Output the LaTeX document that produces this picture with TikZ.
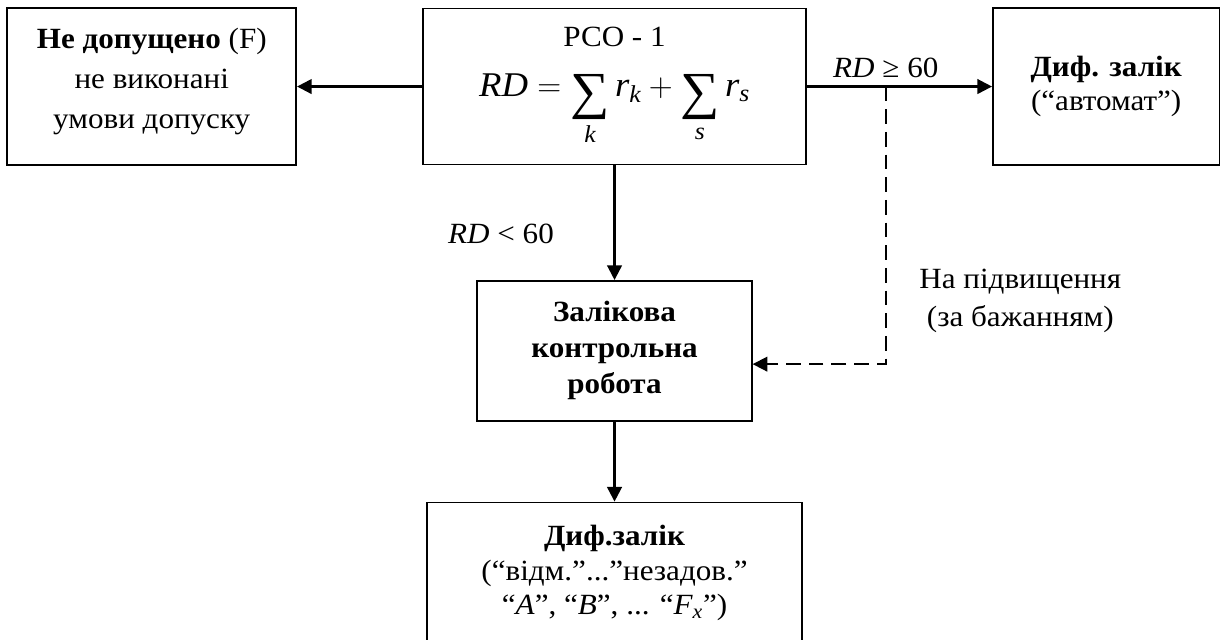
\documentclass[tikz,border=0pt]{standalone}
\usepackage{amsmath}
\usepackage{fontspec}
\setmainfont{Liberation Serif}[FakeStretch=1.06]
\usepackage{tikz}
\usetikzlibrary{arrows.meta, positioning, calc}

\newcommand{\nsum}{\mathop{\raisebox{-9pt}{\fontsize{39}{39}\selectfont ∑}}\limits}

\begin{document}
\begin{tikzpicture}[
    every node/.style={font=\fontsize{22}{30}\selectfont},
    box/.style={rectangle, draw=black, line width=1.2pt, align=center, inner sep=0pt},
    note/.style={align=center, inner sep=0pt},
    tight/.style={font=\fontsize{22}{26}\selectfont},
    arrow/.style={line width=1.7pt, -{Triangle[length=11pt, width=11pt]}},
    dasharrow/.style={arrow, line width=1.3pt, dash pattern=on 11pt off 6pt},
]

    \useasboundingbox (-460.9pt,64.9pt) rectangle (454.1pt,-414.4pt);

    \node (rco) [box, minimum width=287pt, minimum height=117pt] {РСО - 1\\[7.5pt]{\fontsize{26}{30}\selectfont$\textit{RD}=\nsum_{\textit{k}}\textit{r}_{\textit{k}}+\nsum_{\textit{s}}\textit{r}_{\textit{s}}$}};
    \node (ne) [box, minimum width=216.75pt, minimum height=117.75pt, left=94pt of rco] {\textbf{Не допущено} (F)\\не виконані\\умови допуску\rule[-12pt]{0pt}{0pt}};
    \node (dz) [box, tight, minimum width=170pt, minimum height=118pt, right=139pt of rco] {\textbf{Диф. залік}\\(“автомат”)};
    \node (zkr) [box, font=\fontsize{22}{27}\selectfont, minimum width=206pt, minimum height=105pt, below=86pt of rco] {\textbf{Залікова}\\\textbf{контрольна}\\\textbf{робота}};
    \node (dzfinal) [box, tight, minimum width=281pt, inner ysep=17pt, below=60pt of zkr] {\textbf{Диф.залік}\\(“відм.”...”незадов.”\\“\textit{A}”, “\textit{B}”, ... “$\textit{F}_{\textit{x}}$”)};

    \coordinate (split) at ($(rco.east)!0.427!(dz.west)$);
    \coordinate (midlo) at ($(rco.south)!0.6!(zkr.north)$);
    \coordinate (turn) at (split |- zkr.east);

    \node (hi) [above=3pt of split] {\textit{RD} ≥ 60};
    \node (lo) [left=42pt of midlo] {\textit{RD} < 60};
    \node (raise) [note, font=\fontsize{22}{28.5}\selectfont, right=25pt of turn, yshift=37.5pt] {На підвищення\\(за бажанням)};

    \draw [arrow] (rco) -- (ne);
    \draw [arrow] (rco) -- (dz);
    \draw [arrow] (rco) -- (zkr);
    \draw [arrow] (zkr) -- (dzfinal);
    \draw [dasharrow] (split) |- ([yshift=-10pt]zkr.east);

\end{tikzpicture}
\end{document}
